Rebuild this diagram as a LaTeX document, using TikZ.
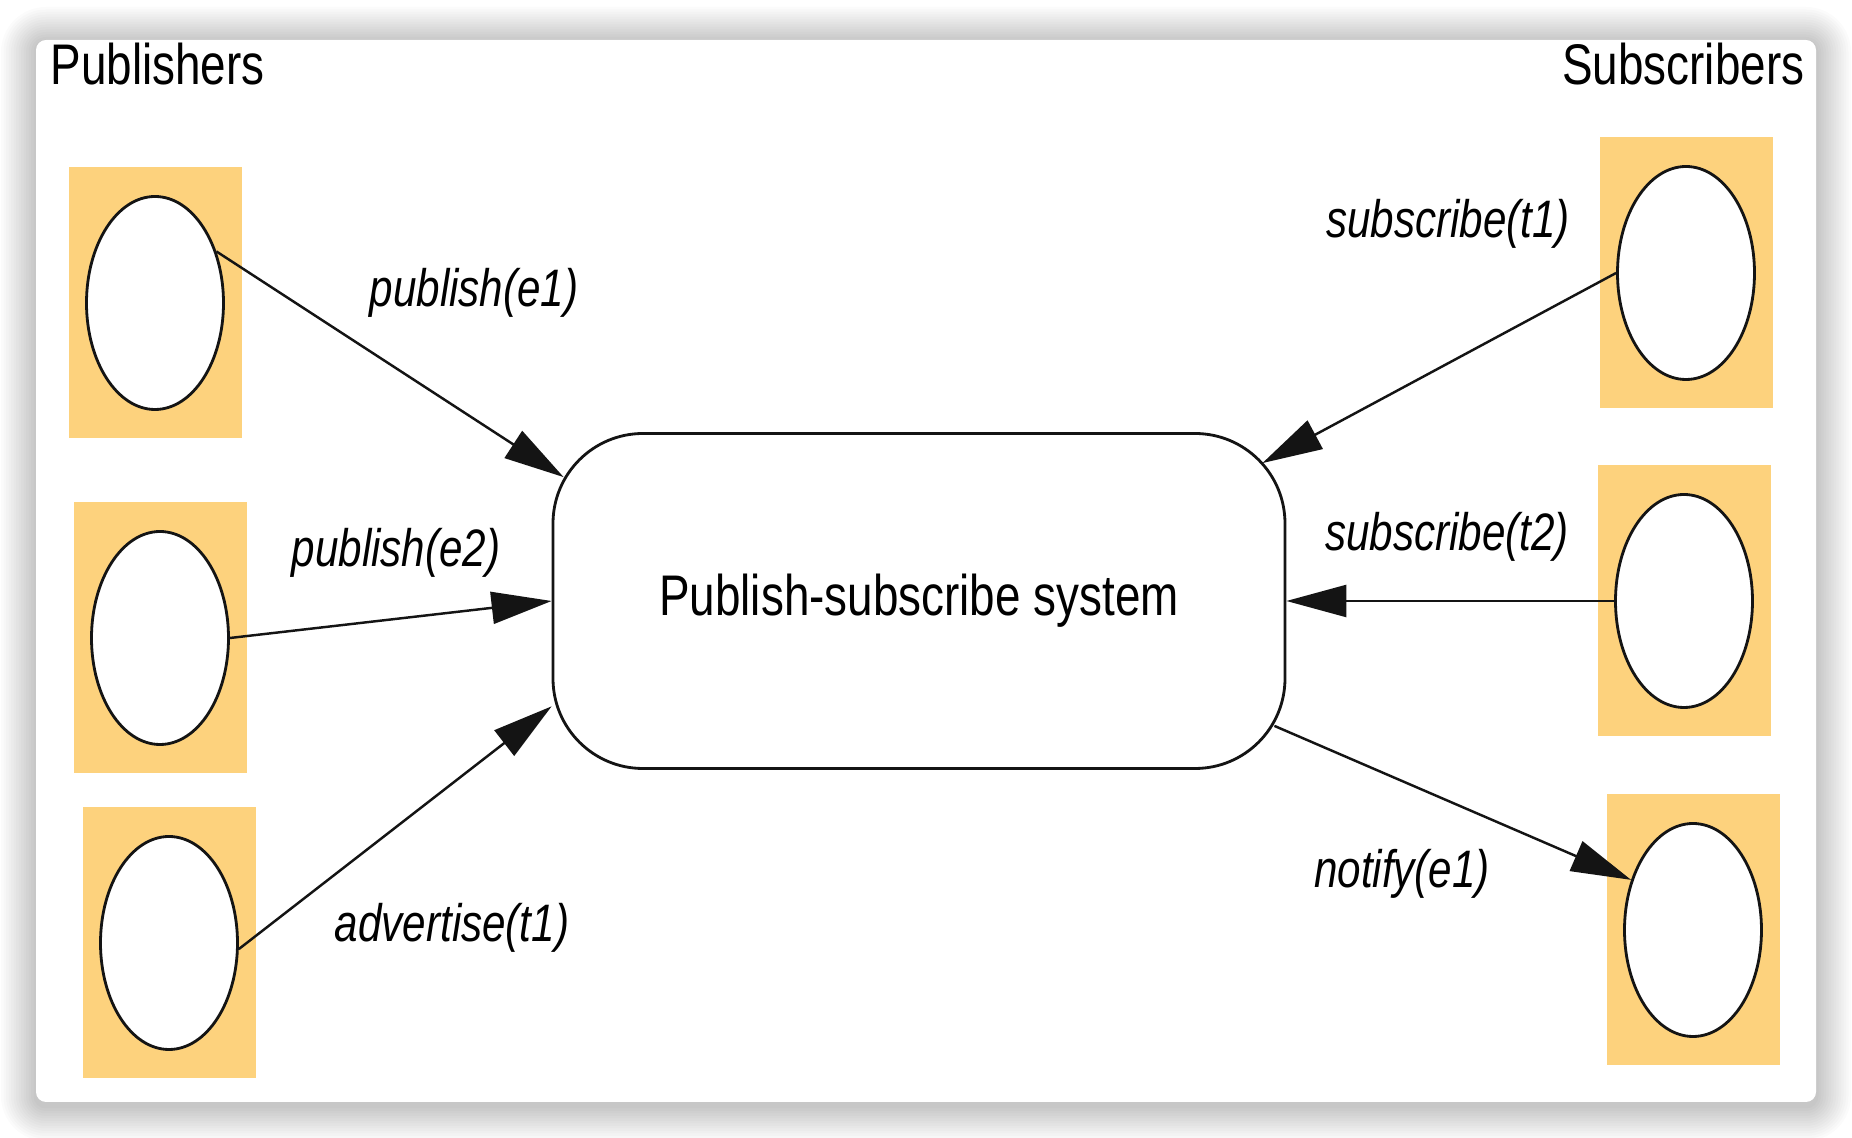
\documentclass[tikz,border=0pt]{standalone}
\usepackage{fontspec}
\setmainfont{Liberation Sans}[FakeStretch=0.8]
\usepackage{tikz}
\usetikzlibrary{shapes.geometric, arrows.meta, positioning, calc}
\definecolor{tileorange}{RGB}{253,210,125}
\definecolor{linegray}{RGB}{20,20,20}

\begin{document}
\begin{tikzpicture}[
    tile/.style={fill=tileorange, minimum width=1.73cm, minimum height=2.71cm, inner sep=0pt},
    actor/.style={ellipse, draw=linegray, line width=0.8pt, fill=white, minimum width=1.37cm, minimum height=2.13cm, inner sep=0pt},
    msg/.style={-{Triangle[length=0.6cm,width=0.32cm]}, line width=0.7pt, linegray},
    msglabel/.style={font=\fontsize{15}{18}\selectfont\itshape, inner sep=1pt},
    heading/.style={font=\fontsize{16.3}{19}\selectfont, inner sep=0pt}
]
    \useasboundingbox (0,0) rectangle (18.52,-11.38);
    % Card with soft shadow
    \fill[white] (0,0) rectangle (18.52,-11.38);
    \foreach \i in {1,...,14} {
        \fill[black, opacity=0.016, rounded corners=0.1cm+\i*0.025cm]
            (0.36-\i*0.025,-0.42+\i*0.025) rectangle (18.16+\i*0.025,-11.06-\i*0.025);
    }
    \fill[white, rounded corners=0.1cm] (0.36,-0.40) rectangle (18.16,-11.02);

    % Headings
    \node[heading, anchor=base west] (pubhead) at (0.50,-0.85) {Publishers};
    \node[heading, anchor=base east] (subhead) at (18.05,-0.85) {Subscribers};

    % Publishers
    \foreach \n/\x/\y in {1/1.55/-3.03, 2/1.60/-6.38, 3/1.69/-9.43} {
        \node[tile] (pubtile\n) at (\x,\y) {};
        \node[actor] (pub\n) at (pubtile\n.center) {};
    }

    % Subscribers
    \foreach \n/\x/\y in {1/16.86/-2.73, 2/16.84/-6.01, 3/16.93/-9.30} {
        \node[tile] (subtile\n) at (\x,\y) {};
        \node[actor] (sub\n) at (subtile\n.center) {};
    }

    % Publish-subscribe system
    \node[draw=linegray, line width=0.8pt, rounded corners=0.9cm, fill=white,
        minimum width=7.32cm, minimum height=3.35cm, heading] (pss) at (9.19,-6.01)
        {Publish-subscribe system};

    % Messages
    \draw[msg] (pub1.40) -- ($(pss.north west)+(0.12,-0.45)$);
    \draw[msg] (pub2.east) -- (pss.west);
    \draw[msg] (pub3.-5) -- (pss.196);
    \draw[msg] (sub1.west) -- ($(pss.north east)+(-0.24,-0.31)$);
    \draw[msg] (sub2.west) -- (pss.east);
    \draw[msg] ($(pss.south east)+(-0.12,0.44)$) -- (sub3.141);

    % Labels
    \node[msglabel] (lblpub1) at (4.74,-2.93) {publish(e1)};
    \node[msglabel] (lblpub2) at (3.96,-5.53) {publish(e2)};
    \node[msglabel] (lbladv) at (4.52,-9.28) {advertise(t1)};
    \node[msglabel] (lblsub1) at (14.48,-2.24) {subscribe(t1)};
    \node[msglabel] (lblsub2) at (14.47,-5.37) {subscribe(t2)};
    \node[msglabel] (lblnotify) at (14.02,-8.74) {notify(e1)};
\end{tikzpicture}
\end{document}
